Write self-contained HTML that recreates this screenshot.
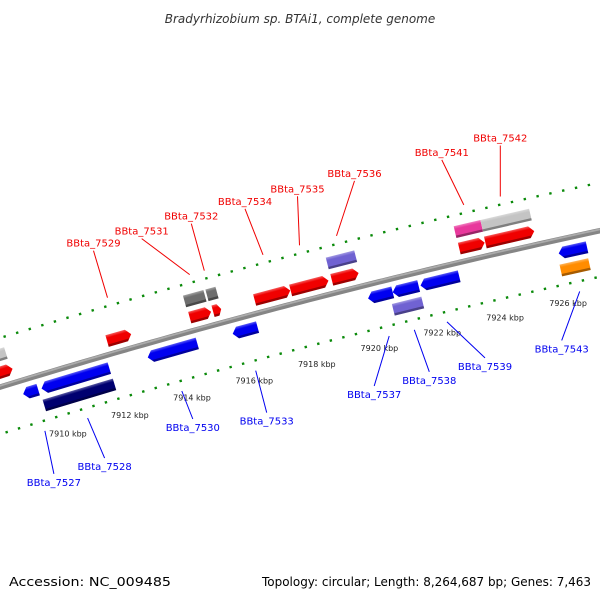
<!DOCTYPE html>
<html><head><meta charset="utf-8">
<style>
html,body{margin:0;padding:0;background:#fff;}
svg{display:block;font-family:"DejaVu Sans","Liberation Sans",sans-serif;}
</style></head>
<body>
<svg id="chart" width="600" height="600" viewBox="0 0 600 600" xmlns="http://www.w3.org/2000/svg">
<defs></defs>
<text x="300" y="23" text-anchor="middle" font-size="12" font-style="italic" fill="#333">Bradyrhizobium sp. BTAi1, complete genome</text>
<text x="9" y="586" font-size="12.5" fill="#000" textLength="162" lengthAdjust="spacingAndGlyphs">Accession: NC_009485</text>
<text x="591" y="586" text-anchor="end" font-size="12.5" fill="#000" textLength="329" lengthAdjust="spacingAndGlyphs">Topology: circular; Length: 8,264,687 bp; Genes: 7,463</text>
<g id="layer"></g>
</svg>
<script>
// ---- data ----
const geneStart = [7906.5,7906.5,7911.96,7914.59,7915.33,7914.57,7915.28,7916.65,7917.79,7919.09,7919.08,7923.11,7923.93,7923.1,7923.94,
                   7909.03,7909.62,7909.55,7913.02,7915.73,7920.03,7920.81,7921.69,7920.7,7926.05,7926.0];
const geneEnd   = [7908.95,7908.9,7912.73,7915.27,7915.59,7915.22,7915.6,7917.78,7918.99,7919.94,7919.98,7923.91,7925.47,7923.94,7925.47,
                   7909.51,7911.79,7911.8,7914.60,7916.52,7920.81,7921.63,7922.91,7921.63,7926.94,7926.9];
const geneTrack = [1,2,1,1,1,2,2,1,1,1,2,1,1,2,2, -1,-1,-2,-1,-1,-1,-1,-1,-2,-1,-2];
const geneShape = ['r','b','r','r','r','b','b','r','r','r','b','r','r','b','b', 'l','l','b','l','l','l','l','l','b','l','b'];
const geneColor = ['#f00000','#c4c4c4','#f00000','#f00000','#f00000','#6e6e6e','#6e6e6e','#f00000','#f00000','#f00000','#7062d2','#f00000','#f00000','#e8389c','#c4c4c4',
                   '#0000f0','#0000f0','#000070','#0000f0','#0000f0','#0000f0','#0000f0','#0000f0','#7062d2','#0000f0','#ff8c00'];
const labelNames = ['BBta_7529','BBta_7531','BBta_7532','BBta_7534','BBta_7535','BBta_7536','BBta_7541','BBta_7542',
                    'BBta_7527','BBta_7528','BBta_7530','BBta_7533','BBta_7537','BBta_7538','BBta_7539','BBta_7543'];
const labelKbp = [7912.34,7914.94,7915.40,7917.25,7918.40,7919.56,7923.55,7924.69,
                  7909.34,7910.72,7913.75,7916.12,7920.38,7921.18,7922.22,7926.43];
const labelSide = [1,1,1,1,1,1,1,1,-1,-1,-1,-1,-1,-1,-1,-1];
const tickLabels = [7910,7912,7914,7916,7918,7920,7922,7924,7926];
// layout offsets (not data)
const labelDX = [-14,-48,-13,-18,-2,18,-22,0, 9,17,11,11,-15,15,38,-18];
const labelDY = [-47,-36,-47,-46,-49,-55,-45,-51, 43,40,28,42,50,42,36,49];

// ---- geometry ----
const R = 7200, TH = -14.6*Math.PI/180;
const Mx = 300, My = 302;
const tx = Math.cos(TH), ty = Math.sin(TH);
const nx = -Math.sin(TH), ny = Math.cos(TH);
const Cx = Mx + R*nx, Cy = My + R*ny;
const PX_PER_KBP = 32.6, S0 = -64.5, K0 = 7916;
function sOf(k){ return S0 + (k-K0)*PX_PER_KBP; }
function pos(k,d){
  const phi = sOf(k)/R, r = R + d;
  const x = Cx + r*(-nx*Math.cos(phi) + tx*Math.sin(phi));
  const y = Cy + r*(-ny*Math.cos(phi) + ty*Math.sin(phi));
  return {x:x, y:y, a:(TH+phi)*180/Math.PI};
}
const NS = 'http://www.w3.org/2000/svg';
const layer = document.getElementById('layer');
const defs = document.querySelector('defs');
function mk(tag, attrs, parent){
  const e = document.createElementNS(NS, tag);
  for (const k in attrs) e.setAttribute(k, attrs[k]);
  (parent||layer).appendChild(e);
  return e;
}
function shade(hex, f){
  const n = parseInt(hex.slice(1),16);
  let r=(n>>16)&255,g=(n>>8)&255,b=n&255;
  if (f>0){ r+= (255-r)*f; g+=(255-g)*f; b+=(255-b)*f; } else { r*=1+f; g*=1+f; b*=1+f; }
  return 'rgb('+Math.round(r)+','+Math.round(g)+','+Math.round(b)+')';
}

// ---- backbone ----
let bp = '';
for (let k=7904; k<=7930; k+=0.25){ const p=pos(k,0); bp += (bp?'L':'M')+p.x.toFixed(2)+','+p.y.toFixed(2); }
const bb = mk('path',{d:bp,stroke:'#858585','stroke-width':5.5,fill:'none'});


let bp2='';
for (let k=7904; k<=7930; k+=0.25){ const p=pos(k,1.3); bp2 += (bp2?'L':'M')+p.x.toFixed(2)+','+p.y.toFixed(2); }
const bbh = mk('path',{d:bp2,stroke:'#ababab','stroke-width':1.8,fill:'none'});



// ---- ticks ----
[47,-45].forEach(function(d){
  for (let i=0; i<=60; i++){
    const k = 7905 + i*0.4;
    const p = pos(k,d);
    const major = Math.abs((k-7910)/2 - Math.round((k-7910)/2)) < 1e-6;
    const g = mk('g',{transform:'translate('+p.x.toFixed(2)+','+p.y.toFixed(2)+') rotate('+p.a.toFixed(3)+')'});
    if (major){
      const t = mk('rect',{x:-1.2,y:-4,width:2.4,height:8,fill:'#0a8a0a'},g);
      
      
    } else {
      const t = mk('rect',{x:-1.2,y:-1.2,width:2.4,height:2.4,fill:'#0a8a0a'},g);
      
      
    }
  }
});
tickLabels.forEach(function(k){
  const p = pos(k,-64);
  const t = mk('text',{x:p.x.toFixed(1),y:(p.y+3).toFixed(1),'text-anchor':'middle','font-size':8,fill:'#222'});
  t.textContent = k+' kbp';
  
  
});

// ---- genes ----
const H = 12;
for (let i=0;i<geneStart.length;i++){
  const d = geneTrack[i]>0 ? (geneTrack[i]===1?13.5:30.5) : (geneTrack[i]===-1?-13.5:-30.5);
  const p = pos(geneStart[i], d);
  const L = (geneEnd[i]-geneStart[i])*PX_PER_KBP;
  const gid = 'gr'+i;
  const lg = mk('linearGradient',{id:gid,x1:0,y1:0,x2:0,y2:1},defs);
  mk('stop',{offset:0,'stop-color':shade(geneColor[i],0.35)},lg);
  mk('stop',{offset:0.25,'stop-color':geneColor[i]},lg);
  mk('stop',{offset:0.78,'stop-color':geneColor[i]},lg);
  mk('stop',{offset:0.82,'stop-color':shade(geneColor[i],-0.35)},lg);
  mk('stop',{offset:1,'stop-color':shade(geneColor[i],-0.35)},lg);
  const g = mk('g',{transform:'translate('+p.x.toFixed(2)+','+p.y.toFixed(2)+') rotate('+p.a.toFixed(3)+')'});
  const h = H/2, a = Math.min(5, L*0.4);
  let pts;
  if (geneShape[i]==='r') pts = [[0,-h],[L-a,-h],[L,0],[L-a,h],[0,h]];
  else if (geneShape[i]==='l') pts = [[a,-h],[L,-h],[L,h],[a,h],[0,0]];
  else pts = [[0,-h],[L,-h],[L,h],[0,h]];
  const poly = mk('polygon',{points:pts.map(q=>q[0].toFixed(2)+','+q[1]).join(' '),fill:'url(#'+gid+')'},g);
  
  
}

// ---- labels ----
for (let i=0;i<labelNames.length;i++){
  const side = labelSide[i];
  const e = pos(labelKbp[i], side*55);
  const sx = e.x + labelDX[i], sy = e.y + labelDY[i];
  const col = side>0 ? '#f00000' : '#0000f0';
  const ln = mk('line',{x1:sx.toFixed(1),y1:sy.toFixed(1),x2:e.x.toFixed(1),y2:e.y.toFixed(1),stroke:col,'stroke-width':1});
  
  
  const ty2 = side>0 ? sy-4 : sy+12;
  const t = mk('text',{x:sx.toFixed(1),y:ty2.toFixed(1),'text-anchor':'middle','font-size':10,fill:col});
  t.textContent = labelNames[i];
  
  
}
</script>
</body></html>
